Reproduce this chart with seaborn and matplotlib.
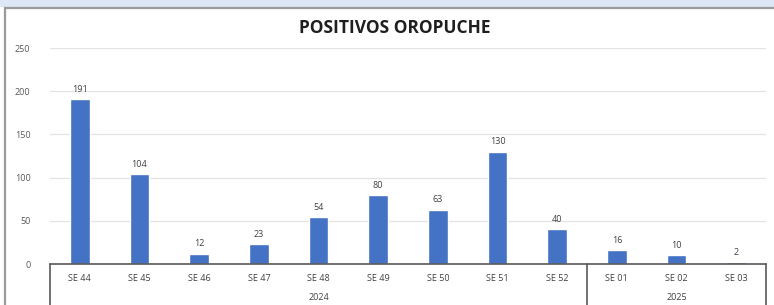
import matplotlib
matplotlib.use('Agg')
import matplotlib.pyplot as plt
import matplotlib.transforms as mtransforms
from matplotlib.patches import Rectangle
import pandas as pd
import seaborn as sns

# data
weeks = ['SE 44', 'SE 45', 'SE 46', 'SE 47', 'SE 48', 'SE 49', 'SE 50', 'SE 51', 'SE 52',
         'SE 01', 'SE 02', 'SE 03']
positives = [191, 104, 12, 23, 54, 80, 63, 130, 40, 16, 10, 2]
years = ['2024', '2024', '2024', '2024', '2024', '2024', '2024', '2024', '2024',
         '2025', '2025', '2025']

df = pd.DataFrame({'week': weeks, 'value': positives, 'year': years})

sns.set_theme(style='white')
plt.rcParams['font.family'] = ['Open Sans', 'DejaVu Sans']

fig = plt.figure(figsize=(7.74, 3.05), dpi=100, facecolor='white')
W, H = 774, 305

# light band on top and outer frame
fig.patches.append(Rectangle((0, 1 - 7 / H), 1, 7 / H, transform=fig.transFigure,
                             facecolor='#dde7f6', edgecolor='none', zorder=-5))
fig.patches.append(Rectangle((5 / W, -0.02), 1.0, (H - 8) / H + 0.02, transform=fig.transFigure,
                             facecolor='none', edgecolor='#9a9a9a', linewidth=1.6, zorder=-5))

ax = fig.add_axes([50 / W, (H - 264) / H, 716 / W, 216 / H])
ax.patch.set_alpha(0)

sns.barplot(data=df, x='week', y='value', color='#4472C4', width=0.33, saturation=1, ax=ax)

ax.set_ylim(0, 250)
ax.set_xlim(-0.5, len(weeks) - 0.5)
ax.set_yticks(range(0, 251, 50))
ax.yaxis.grid(True, color='#e3e3e3', linewidth=0.9)
ax.set_axisbelow(True)
sns.despine(ax=ax, left=True, top=True, right=True)
ax.spines['bottom'].set_color('#595959')
ax.spines['bottom'].set_linewidth(1.2)
ax.set_xlabel('')
ax.set_ylabel('')
ax.tick_params(axis='y', labelsize=6.5, labelcolor='#595959', length=0, pad=14)
ax.tick_params(axis='x', labelsize=6.5, labelcolor='#404040', length=0, pad=7)

for i, v in enumerate(positives):
    ax.text(i, v + 6, str(v), ha='center', va='bottom', fontsize=6.5, color='#404040')

# year group separators and labels
trans = mtransforms.blended_transform_factory(ax.transData, ax.transAxes)
for xs in [-0.5, 8.5, 11.5]:
    ax.plot([xs, xs], [0, -0.2], transform=trans, color='#595959', linewidth=1.2, clip_on=False)

groups = {}
for i, y in enumerate(years):
    groups.setdefault(y, []).append(i)
for y, idx in groups.items():
    ax.text((idx[0] + idx[-1]) / 2, -0.155, y, transform=trans, ha='center', va='center',
            fontsize=6.5, color='#404040')

fig.text(395 / W, 1 - 28 / H, 'POSITIVOS OROPUCHE', ha='center', va='center',
         fontsize=12.5, fontweight='bold', color='#1f1f1f')

fig.savefig('out.png', dpi=100)
